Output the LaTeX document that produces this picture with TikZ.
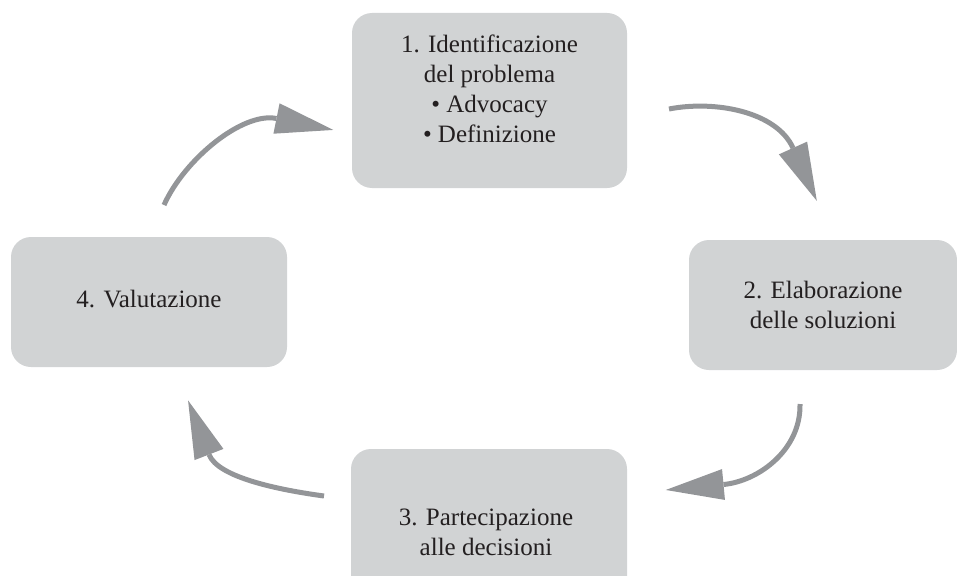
\documentclass[tikz,border=0pt]{standalone}
\usepackage{fontspec}
\setmainfont{Liberation Serif}
\usetikzlibrary{arrows.meta}
\definecolor{boxgray}{HTML}{D1D3D4}
\definecolor{arrowgray}{HTML}{939598}
\definecolor{txtcol}{HTML}{231F20}
\begin{document}
\begin{tikzpicture}[x=1pt,y=-1pt,
  box/.style={fill=boxgray, rounded corners=20pt, inner sep=0pt, draw=none},
  lbl/.style={text=txtcol, font=\fontsize{25}{30}\selectfont, align=center, inner sep=0pt},
  cyc/.style={draw=arrowgray, line width=5pt, shorten >=-58pt,
    -{Triangle[length=58pt,width=31pt,line width=0pt]}}
]
\useasboundingbox (0,0) rectangle (957,575);
\begin{scope}
\clip (0,0) rectangle (957,575);
% boxes
\node[box, minimum width=275pt, minimum height=175pt] (b1) at (489.5,100.5) {};
\node[box, minimum width=268pt, minimum height=130pt] (b2) at (823,305) {};
\node[box, minimum width=276pt, minimum height=162pt] (b3) at (489,530) {};
\node[box, minimum width=276pt, minimum height=130pt] (b4) at (149,302) {};
% texts
\node[lbl] (t1) at (489.5,88.5) {1. Identificazione\\del problema\\• Advocacy\\• Definizione};
\node[lbl] (t2) at (823,304.5) {2. Elaborazione\\delle soluzioni};
\node[lbl] (t3) at (486,532) {3. Partecipazione\\alle decisioni};
\node[lbl] (t4) at (149,299.5) {4. Valutazione};
% arrow end points (start of shaft, back of head)
\coordinate (a1s) at (669,109);   \coordinate (a1e) at (793,148);
\coordinate (a2s) at (800,404);   \coordinate (a2e) at (723.5,484.5);
\coordinate (a3s) at (324,496);   \coordinate (a3e) at (209,454.5);
\coordinate (a4s) at (164,205);   \coordinate (a4e) at (276.5,118.5);
% arrows
\draw[cyc] (a1s) .. controls (715,100) and (776.6,111.6) .. (a1e);
\draw[cyc] (a2s) .. controls (801,450) and (758.3,481.2) .. (a2e);
\draw[cyc] (a3s) .. controls (280,490) and (218,477.75) .. (a3e);
\draw[cyc] (a4s) .. controls (184,160) and (242.2,111.6) .. (a4e);
\end{scope}
\end{tikzpicture}
\end{document}
